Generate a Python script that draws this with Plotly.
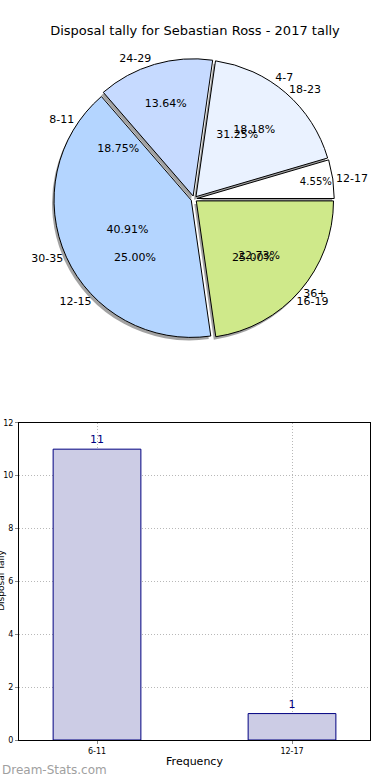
import plotly.graph_objects as go

# ---- data ----
title_text = "Disposal tally for Sebastian Ross - 2017 tally"
pie1_labels = ["12-17", "18-23", "24-29", "30-35", "36+"]
pie1_values = [1, 4, 3, 9, 5]
pie1_colors = ["#ffffff", "#eaf2ff", "#c6daff", "#b4d5ff", "#cfe98a"]

pie2_labels = ["4-7", "8-11", "12-15", "16-19"]
pie2_values = [5, 3, 4, 4]

bar_categories = ["6-11", "12-17"]
bar_values = [11, 1]
y_ticks = [0, 2, 4, 6, 8, 10, 12]

W, H = 390, 780
ML, MR, MT, MB = 19, 20, 0, 40
PW = W - ML - MR
PH = H - MT - MB

def px_x(x):
    return (x - ML) / PW

def px_y(y):
    return (H - MB - y) / PH

# pie geometry (pixels)
cx, cy, half = 194, 196, 141
pull = 0.022
dom_x = [px_x(cx - half), px_x(cx + half)]
dom_y = [px_y(cy + half), px_y(cy - half)]
sh_dx, sh_dy = -2, 3
dom_x_sh = [px_x(cx - half + sh_dx), px_x(cx + half + sh_dx)]
dom_y_sh = [px_y(cy + half + sh_dy), px_y(cy - half + sh_dy)]

# first slice starts at 3 o'clock, going counterclockwise
rot1 = 90 - 360 * pie1_values[0] / sum(pie1_values)
rot2 = 90 - 360 * pie2_values[0] / sum(pie2_values)

font_main = "DejaVu Sans"
clear = "rgba(0,0,0,0)"

common = dict(sort=False, direction="counterclockwise",
              showlegend=False, hoverinfo="skip")

fig = go.Figure()

# shadow
fig.add_trace(go.Pie(labels=pie1_labels, values=pie1_values, rotation=rot1,
                     domain=dict(x=dom_x_sh, y=dom_y_sh),
                     marker=dict(colors=["rgba(70,70,70,0.5)"] * 5, line=dict(width=0)),
                     pull=[pull] * 5, textinfo="none", **common))
# pie 1 main
fig.add_trace(go.Pie(labels=pie1_labels, values=pie1_values, rotation=rot1,
                     domain=dict(x=dom_x, y=dom_y),
                     marker=dict(colors=pie1_colors, line=dict(color="black", width=1)),
                     pull=[pull] * 5, texttemplate="%{percent:.2%}",
                     textposition="inside", insidetextorientation="horizontal",
                     textfont=dict(family=font_main, size=11, color="black"),
                     **common))
# pie 1 labels
fig.add_trace(go.Pie(labels=pie1_labels, values=pie1_values, rotation=rot1,
                     domain=dict(x=dom_x, y=dom_y),
                     marker=dict(colors=[clear] * 5, line=dict(width=0)),
                     pull=[pull] * 5, texttemplate="%{label}",
                     textposition="outside",
                     outsidetextfont=dict(family=font_main, size=11, color="black"),
                     **common))
# pie 2 percents
fig.add_trace(go.Pie(labels=pie2_labels, values=pie2_values, rotation=rot2,
                     domain=dict(x=dom_x, y=dom_y),
                     marker=dict(colors=[clear] * 4, line=dict(width=0)),
                     pull=[pull] * 4, texttemplate="%{percent:.2%}",
                     textposition="inside", insidetextorientation="horizontal",
                     insidetextfont=dict(family=font_main, size=11, color="black"),
                     **common))
# pie 2 labels
fig.add_trace(go.Pie(labels=pie2_labels, values=pie2_values, rotation=rot2,
                     domain=dict(x=dom_x, y=dom_y),
                     marker=dict(colors=[clear] * 4, line=dict(width=0)),
                     pull=[pull] * 4, texttemplate="%{label}",
                     textposition="outside",
                     outsidetextfont=dict(family=font_main, size=11, color="black"),
                     **common))

# bar chart
fig.add_trace(go.Bar(x=bar_categories, y=bar_values, width=0.45,
                     marker=dict(color="#ccccE5", line=dict(color="#000080", width=1)),
                     text=[str(v) for v in bar_values], textposition="outside",
                     textfont=dict(family=font_main, size=11, color="#000080"),
                     cliponaxis=False, showlegend=False, hoverinfo="skip"))

grid_style = dict(showgrid=True, gridcolor="#b8b8b8", griddash="1px,2px", gridwidth=1)

fig.update_layout(
    width=W, height=H,
    margin=dict(l=ML, r=MR, t=MT, b=MB),
    paper_bgcolor="white", plot_bgcolor="white",
    font=dict(family=font_main, color="black"),
    title=dict(text=title_text, x=0.5, xanchor="center", y=1 - 30 / H, yanchor="middle",
               font=dict(family=font_main, size=13, color="black")),
    xaxis=dict(domain=[0, 1], range=[-0.4, 1.4], type="category",
               showline=True, linecolor="black", linewidth=1, mirror=True,
               ticks="outside", ticklen=3, tickcolor="#888",
               tickfont=dict(family=font_main, size=8, color="black"),
               title=dict(text="Frequency", font=dict(family=font_main, size=11), standoff=2),
               **grid_style),
    yaxis=dict(domain=[0, px_y(421)], range=[0, 12], tickvals=y_ticks,
               showline=True, linecolor="black", linewidth=1, mirror=True,
               ticks="outside", ticklen=3, tickcolor="#888", zeroline=False,
               tickfont=dict(family=font_main, size=8, color="black"),
               **grid_style),
    annotations=[
        dict(text="Disposal Tally", xref="paper", yref="paper", x=px_x(1), y=px_y(580),
             xanchor="center", yanchor="middle", textangle=-90, showarrow=False,
             font=dict(family=font_main, size=9, color="black")),
        dict(text="Dream-Stats.com", xref="paper", yref="paper", x=px_x(0), y=px_y(770),
             xanchor="left", yanchor="middle", showarrow=False,
             font=dict(family=font_main, size=12, color="#a0a0a0")),
    ],
)

fig.write_html("out.html", config={"displayModeBar": False},
               post_script="document.body.style.margin='0';")
